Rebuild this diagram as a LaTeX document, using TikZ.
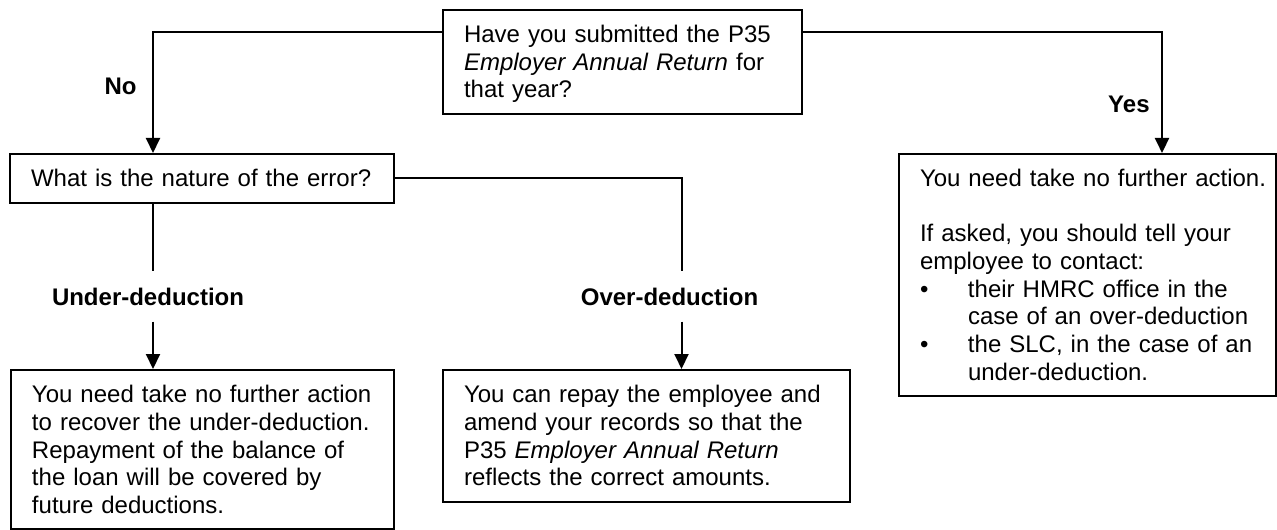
\documentclass[tikz,border=0pt]{standalone}
\usepackage{fontspec}
\setmainfont{Liberation Sans}
\usetikzlibrary{arrows.meta}
\tikzset{flowbox/.style={draw, line width=1pt, anchor=north west, align=left, inner xsep=10.5pt, inner ysep=5.5pt, font=\fontsize{12}{13.8}\selectfont, execute at begin node={\rule{0pt}{10.9pt}}, execute at end node={\rule[-2.6pt]{0pt}{2.6pt}}}}
\tikzset{tag/.style={font=\fontsize{12}{13.8}\selectfont\bfseries, inner xsep=0pt, inner ysep=8pt, anchor=base}}
\tikzset{conn/.style={line width=1pt}}
\tikzset{connarrow/.style={line width=1pt, -{Triangle[width=7pt,length=7.5pt]}}}

\begin{document}
\begin{tikzpicture}[x=0.5pt,y=-0.5pt]
      \useasboundingbox (0,0) rectangle (1277,529);
      \node[flowbox, text width=158.5pt] at (442,9) (q) {Have you submitted the P35\\\textit{Employer Annual Return} for\\that year?};
      \node[flowbox, text width=171pt] at (9,153) (err) {What is the nature of the error?};
      \node[flowbox, text width=167.5pt] at (898,153) (done) {\mbox{You need take no further action.}\\[13.8pt]If asked, you should tell your\\employee to contact:\\\makebox[24pt][l]{\textbullet}their HMRC office in the\\\hspace*{24pt}\mbox{case of an over-deduction}\\\makebox[24pt][l]{\textbullet}the SLC, in the case of an\\\hspace*{24pt}under-deduction.};
      \node[flowbox, text width=170.5pt] at (10,369) (under) {You need take no further action\\to recover the under-deduction.\\Repayment of the balance of\\the loan will be covered by\\future deductions.};
      \node[flowbox, text width=182.5pt] at (442,369) (over) {You can repay the employee and\\amend your records so that the\\P35 \textit{Employer Annual Return}\\reflects the correct amounts.};

      \node[tag, anchor=base east] at (137,95) (no) {No};
      \node[tag, anchor=base east] at (1150,113) (yes) {Yes};
      \node[tag] at (148,305) (ulab) {Under-deduction};
      \node[tag] at (669.5,305) (olab) {Over-deduction};

      \coordinate (fork) at (0,32);
      \coordinate (noline) at (153,0);
      \coordinate (overline) at (681.5,0);
      \coordinate (yesline) at (1162,0);

      \draw[connarrow] (q.west |- fork) -| (err.north -| noline);
      \draw[connarrow] (q.east |- fork) -| (done.north -| yesline);
      \draw[conn] (err.south -| noline) -- (ulab.north -| noline);
      \draw[connarrow] (ulab.south -| noline) -- (under.north -| noline);
      \draw[conn] (err.east) -| (olab.north -| overline);
      \draw[connarrow] (olab.south -| overline) -- (over.north -| overline);
\end{tikzpicture}
\end{document}
